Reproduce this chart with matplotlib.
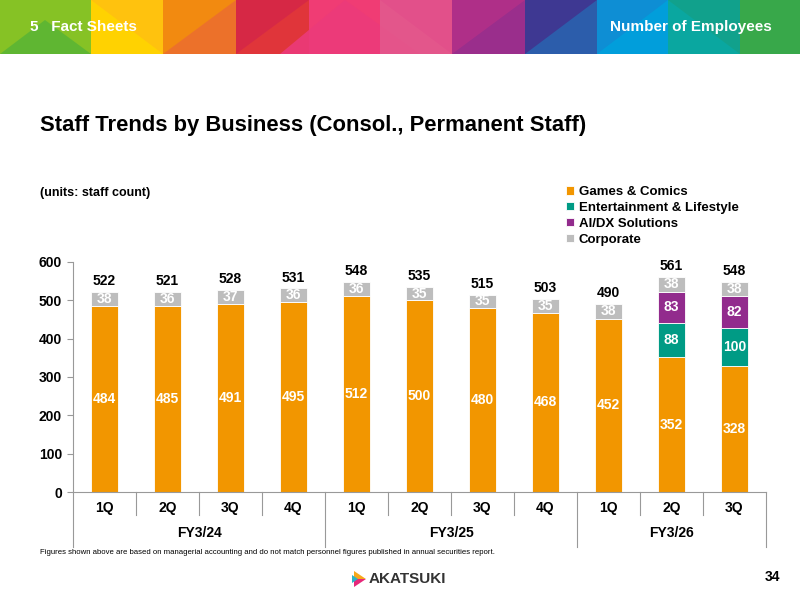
import matplotlib.pyplot as plt
from matplotlib.patches import Rectangle, Polygon

plt.rcParams['font.family'] = ['Liberation Sans', 'DejaVu Sans']
plt.rcParams['font.weight'] = 'bold'

# --- data ---
quarters = ["1Q", "2Q", "3Q", "4Q", "1Q", "2Q", "3Q", "4Q", "1Q", "2Q", "3Q"]
fiscal_years = ["FY3/24", "FY3/25", "FY3/26"]
fy_sizes = [4, 4, 3]
games = [484, 485, 491, 495, 512, 500, 480, 468, 452, 352, 328]
entertainment = [0, 0, 0, 0, 0, 0, 0, 0, 0, 88, 100]
ai_dx = [0, 0, 0, 0, 0, 0, 0, 0, 0, 83, 82]
corporate = [38, 36, 37, 36, 36, 35, 35, 35, 38, 38, 38]
totals = [522, 521, 528, 531, 548, 535, 515, 503, 490, 561, 548]
series_names = ["Games & Comics", "Entertainment & Lifestyle", "AI/DX Solutions", "Corporate"]
colors = ["#F29600", "#009B85", "#922B8D", "#BDBDBD"]

fig = plt.figure(figsize=(8, 6), dpi=100)

# --- header banner ---
ban = fig.add_axes([0, 1 - 54 / 600, 1, 54 / 600])
ban.set_xlim(0, 800)
ban.set_ylim(54, 0)
ban.axis("off")
segments = [
    (0, 91, "#86C225"), (91, 163, "#FFC20E"), (163, 236, "#F28A10"),
    (236, 309, "#E0353A"), (309, 380, "#F03C74"), (380, 452, "#E2508A"),
    (452, 525, "#9A2E8C"), (525, 597, "#3E3892"), (597, 668, "#0E8ED4"),
    (668, 740, "#0AA7A0"), (740, 800, "#38A84A"),
]
for x0, x1, c in segments:
    ban.add_patch(Rectangle((x0, 0), x1 - x0, 54, color=c, lw=0))
triangles = [
    ([(0, 54), (45, 20), (91, 54)], "#5BB534"),
    ([(91, 0), (163, 54), (91, 54)], "#FFD400"),
    ([(163, 54), (236, 0), (236, 54)], "#EC6F2E"),
    ([(236, 0), (309, 0), (236, 54)], "#D52747"),
    ([(280, 54), (345, 0), (420, 54)], "#EC3A7A"),
    ([(380, 0), (452, 54), (380, 54)], "#E4578C"),
    ([(452, 0), (525, 0), (452, 54)], "#B23088"),
    ([(525, 54), (597, 0), (597, 54)], "#2A62AE"),
    ([(597, 54), (668, 0), (668, 54)], "#00A0DC"),
    ([(668, 0), (740, 54), (740, 0)], "#12A18A"),
]
for pts, c in triangles:
    ban.add_patch(Polygon(pts, closed=True, color=c, lw=0, alpha=0.9))
ban.text(30, 27, "5   Fact Sheets", color="white", fontsize=11, va="center", ha="left")
ban.text(772, 27, "Number of Employees", color="white", fontsize=11, va="center", ha="right")

# --- titles ---
fig.text(40 / 800, 1 - 125 / 600, "Staff Trends by Business (Consol., Permanent Staff)",
         fontsize=15.8, va="center", ha="left")
fig.text(40 / 800, 1 - 193 / 600, "(units: staff count)", fontsize=9, va="center", ha="left")

# --- chart ---
ax = fig.add_axes([73 / 800, 1 - 492 / 600, 693 / 800, 230 / 600])
x = list(range(len(quarters)))
w = 0.44
bottom = [0] * len(x)
stacks = [games, entertainment, ai_dx, corporate]
bars = []
for name, vals, c in zip(series_names, stacks, colors):
    b = ax.bar(x, vals, w, bottom=bottom, color=c, label=name, edgecolor="white", linewidth=0.6)
    bars.append(b)
    for xi, v, b0 in zip(x, vals, bottom):
        if v > 0:
            ax.text(xi, b0 + v / 2, str(v), ha="center", va="center", color="white", fontsize=10)
    bottom = [b0 + v for b0, v in zip(bottom, vals)]
for xi, t in zip(x, totals):
    ax.text(xi, t + 10, str(t), ha="center", va="bottom", fontsize=10, color="black")

ax.set_xlim(-0.5, len(x) - 0.5)
ax.set_ylim(0, 600)
ax.set_yticks(range(0, 601, 100))
ax.tick_params(axis="y", labelsize=10, length=4, color="#999999", pad=4)
ax.set_xticks([])
for s in ["top", "right"]:
    ax.spines[s].set_visible(False)
for s in ["left", "bottom"]:
    ax.spines[s].set_color("#999999")

trans = ax.get_xaxis_transform()
# quarter labels and dividers
for xi, q in zip(x, quarters):
    ax.text(xi, -16 / 230, q, transform=trans, ha="center", va="center", fontsize=10)
fy_edges = [-0.5]
for n in fy_sizes:
    fy_edges.append(fy_edges[-1] + n)
for k in range(len(x) + 1):
    xe = k - 0.5
    depth = -55 / 230 if xe in fy_edges else -23 / 230
    ax.plot([xe, xe], [0, depth], transform=trans, color="#999999", lw=0.8, clip_on=False)
for i, fy in enumerate(fiscal_years):
    mid = (fy_edges[i] + fy_edges[i + 1]) / 2
    ax.text(mid, -41 / 230, fy, transform=trans, ha="center", va="center", fontsize=10)

fig.legend(handles=bars, labels=series_names, loc="upper left",
           bbox_to_anchor=(566 / 800, 1 - 186 / 600), frameon=False, fontsize=9.5,
           handlelength=0.6, handleheight=0.6, handletextpad=0.35, labelspacing=0.3,
           borderpad=0, borderaxespad=0)

# --- footer ---
fig.text(40 / 800, 1 - 553 / 600,
         "Figures shown above are based on managerial accounting and do not match personnel "
         "figures published in annual securities report.", fontsize=5.6, va="center", ha="left",
         fontweight="normal")
fig.text(369 / 800, 1 - 579 / 600, "AKATSUKI", fontsize=11, va="center", ha="left",
         color="#333333")
logo = fig.add_axes([352 / 800, 1 - 588 / 600, 16 / 800, 18 / 600])
logo.set_xlim(0, 16)
logo.set_ylim(18, 0)
logo.axis("off")
logo.add_patch(Polygon([(2, 1), (14, 9), (2, 9)], color="#F7A81B", lw=0))
logo.add_patch(Polygon([(2, 9), (14, 9), (2, 17)], color="#E6287A", lw=0))
logo.add_patch(Polygon([(0, 5), (6, 9), (0, 13)], color="#2AB3C8", lw=0))
fig.text(780 / 800, 1 - 577 / 600, "34", fontsize=10, va="center", ha="right")

fig.savefig("out.png", dpi=100)
